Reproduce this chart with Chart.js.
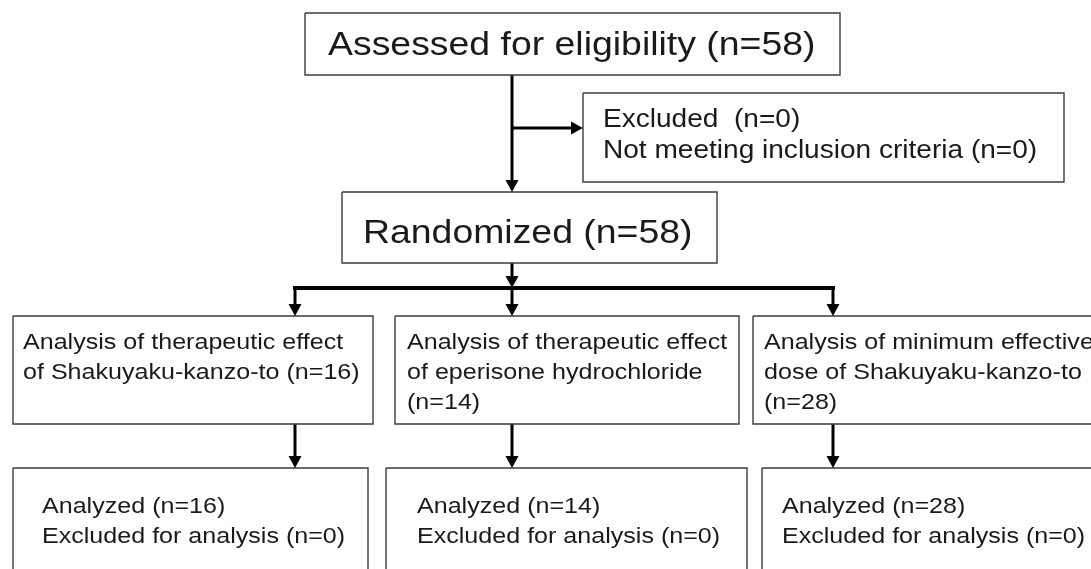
<!DOCTYPE html>
<html>
<head>
<meta charset="utf-8">
<script src="https://cdn.jsdelivr.net/npm/chart.js@4/dist/chart.umd.min.js"></script>
<style>
html,body{margin:0;padding:0;background:#fff;}
#c{display:block;}
</style>
</head>
<body>
<canvas id="c" width="1091" height="569"></canvas>
<script>
// ---- Data (participant counts per stage) ----
const assessed = 58;
const excluded = 0;
const notMeeting = 0;
const randomized = 58;
const groupNames = ['of Shakuyaku-kanzo-to', 'of eperisone hydrochloride', 'dose of Shakuyaku-kanzo-to'];
const groupCounts = [16, 14, 28];
const analyzedCounts = [16, 14, 28];
const excludedAnalysis = [0, 0, 0];

// ---- Text built from data ----
const texts = [
  ['Assessed for eligibility (n=' + assessed + ')'],
  ['Excluded  (n=' + excluded + ')', 'Not meeting inclusion criteria (n=' + notMeeting + ')'],
  ['Randomized (n=' + randomized + ')'],
  ['Analysis of therapeutic effect', groupNames[0] + ' (n=' + groupCounts[0] + ')'],
  ['Analysis of therapeutic effect', groupNames[1], '(n=' + groupCounts[1] + ')'],
  ['Analysis of minimum effective', groupNames[2], '(n=' + groupCounts[2] + ')'],
  ['Analyzed (n=' + analyzedCounts[0] + ')', 'Excluded for analysis (n=' + excludedAnalysis[0] + ')'],
  ['Analyzed (n=' + analyzedCounts[1] + ')', 'Excluded for analysis (n=' + excludedAnalysis[1] + ')'],
  ['Analyzed (n=' + analyzedCounts[2] + ')', 'Excluded for analysis (n=' + excludedAnalysis[2] + ')']
];

// ---- Layout (diagram coordinates) ----
const boxLayout = [
  {x1:305, x2:840, y1:13, y2:75, tx:328, ty:[55], fs:34},
  {x1:583, x2:1064, y1:93, y2:182, tx:603, ty:[127,158], fs:25.5},
  {x1:342, x2:717, y1:192, y2:263, tx:363, ty:[243], fs:34},
  {x1:13, x2:373, y1:316, y2:424, tx:23, ty:[349,379], fs:22.8},
  {x1:395, x2:739, y1:316, y2:424, tx:407, ty:[349,379,409], fs:22.8},
  {x1:753, x2:1098, y1:316, y2:424, tx:764, ty:[349,379,409], fs:22.8},
  {x1:13, x2:368, y1:468, y2:580, tx:42, ty:[513,543], fs:22.8},
  {x1:386, x2:747, y1:468, y2:580, tx:417, ty:[513,543], fs:22.8},
  {x1:762, x2:1098, y1:468, y2:580, tx:782, ty:[513,543], fs:22.8}
];
// connectors: [x1,y1,x2,y2,width,arrow('down'|'right'|null)]
const connectors = [
  [512,75,512,192,3,'down'],
  [512,128,583,128,3,'right'],
  [512,263,512,288,3,'down'],
  [293,288,835,288,4,null],
  [295,288,295,316,3,'down'],
  [512,288,512,316,3,'down'],
  [833,288,833,316,3,'down'],
  [295,424,295,468,3,'down'],
  [512,424,512,468,3,'down'],
  [833,424,833,468,3,'down']
];
const HEAD_L = 12, HEAD_W = 13, HSCALE = 1.1;

const datasets = [];
boxLayout.forEach(b => {
  datasets.push({
    data: [{x:b.x1,y:b.y1},{x:b.x2,y:b.y1},{x:b.x2,y:b.y2},{x:b.x1,y:b.y2},{x:b.x1,y:b.y1}],
    showLine: true, borderColor: '#3c3c3c', borderWidth: 1.4, pointRadius: 0,
    borderJoinStyle: 'miter', borderCapStyle: 'butt', fill: false, tension: 0, clip: false
  });
});
connectors.forEach(c => {
  let [x1,y1,x2,y2,w,a] = c;
  if (a === 'down') y2 -= HEAD_L - 2;
  if (a === 'right') x2 -= HEAD_L - 2;
  datasets.push({
    data: [{x:x1,y:y1},{x:x2,y:y2}],
    showLine: true, borderColor: '#000', borderWidth: w, pointRadius: 0,
    borderCapStyle: 'butt', fill: false, tension: 0, clip: false
  });
});

const flowPlugin = {
  id: 'flow',
  afterDatasetsDraw(chart) {
    const ctx = chart.ctx, xs = chart.scales.x, ys = chart.scales.y;
    // arrowheads
    ctx.save();
    ctx.fillStyle = '#000';
    connectors.forEach(c => {
      const [x1,y1,x2,y2,w,a] = c;
      if (!a) return;
      const px = xs.getPixelForValue(x2), py = ys.getPixelForValue(y2);
      ctx.beginPath();
      if (a === 'down') {
        ctx.moveTo(px, py);
        ctx.lineTo(px - HEAD_W/2, py - HEAD_L);
        ctx.lineTo(px + HEAD_W/2, py - HEAD_L);
      } else {
        ctx.moveTo(px, py);
        ctx.lineTo(px - HEAD_L, py - HEAD_W/2);
        ctx.lineTo(px - HEAD_L, py + HEAD_W/2);
      }
      ctx.closePath();
      ctx.fill();
    });
    ctx.restore();
    // text
    ctx.save();
    ctx.fillStyle = '#1a1a1a';
    ctx.textBaseline = 'alphabetic';
    ctx.textAlign = 'left';
    boxLayout.forEach((b, i) => {
      ctx.font = b.fs + 'px "Liberation Sans", Arial, sans-serif';
      texts[i].forEach((line, j) => {
        const px = xs.getPixelForValue(b.tx), py = ys.getPixelForValue(b.ty[j]);
        ctx.save();
        ctx.translate(px, py);
        ctx.scale(HSCALE, 1);
        ctx.fillText(line, 0, 0);
        ctx.restore();
      });
    });
    ctx.restore();
  }
};

new Chart(document.getElementById('c'), {
  type: 'scatter',
  data: { datasets },
  options: {
    responsive: false,
    animation: false,
    events: [],
    layout: { padding: 0 },
    plugins: { legend: {display:false}, tooltip: {enabled:false}, title:{display:false} },
    scales: {
      x: { type:'linear', min:0, max:1091, display:false },
      y: { type:'linear', min:0, max:569, reverse:true, display:false }
    }
  },
  plugins: [flowPlugin]
});
</script>
</body>
</html>
